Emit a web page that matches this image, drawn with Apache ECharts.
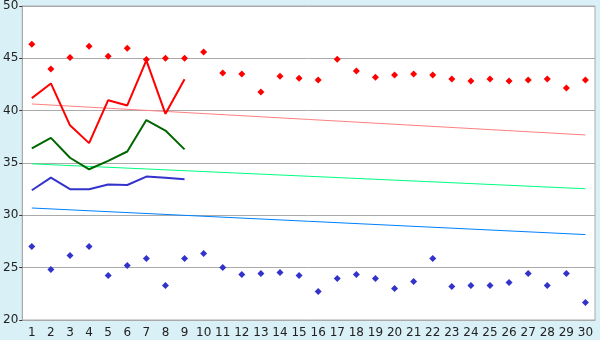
<!DOCTYPE html>
<html><head><meta charset="utf-8">
<script src="https://cdn.jsdelivr.net/npm/echarts@6/dist/echarts.min.js"></script>
<style>html,body{margin:0;padding:0;background:#d9f0f7;}#c{width:600px;height:340px;}</style>
</head><body><div id="c"></div>
<script>
var categories = ['1','2','3','4','5','6','7','8','9','10','11','12','13','14','15','16','17','18','19','20','21','22','23','24','25','26','27','28','29','30'];
var redLine = [41.2, 42.6, 38.6, 36.9, 41.0, 40.5, 44.8, 39.7, 43.0];
var greenLine = [36.4, 37.4, 35.5, 34.4, 35.2, 36.1, 39.1, 38.1, 36.3];
var blueLine = [32.4, 33.6, 32.5, 32.5, 32.95, 32.9, 33.7, 33.6, 33.45];
var redPoints = [46.35, 43.97, 45.08, 46.16, 45.2, 45.97, 44.9, 45.0, 45.0, 45.6, 43.6, 43.5, 41.78, 43.3, 43.1, 42.92, 44.92, 43.78, 43.2, 43.4, 43.5, 43.4, 43.02, 42.83, 43.02, 42.83, 42.92, 43.02, 42.16, 42.92];
var bluePoints = [27.02, 24.83, 26.16, 27.02, 24.26, 25.21, 25.87, 23.3, 25.87, 26.35, 25.02, 24.35, 24.45, 24.54, 24.26, 22.73, 23.97, 24.35, 23.97, 23.02, 23.69, 25.87, 23.21, 23.3, 23.3, 23.59, 24.45, 23.3, 24.45, 21.68];
var trendRed = [40.64, 37.68];
var trendGreen = [34.92, 32.54];
var trendBlue = [30.7, 28.16];

function ends(pair) {
  var arr = categories.map(function(){ return null; });
  arr[0] = pair[0];
  arr[arr.length - 1] = pair[1];
  return arr;
}
function lineS(data, color, width, z) {
  return {type:'line', data:data, symbol:'none', connectNulls:true, z:z||2,
    lineStyle:{color:color, width:width}, itemStyle:{color:color}, animation:false, silent:true};
}
function pts(data, color) {
  return {type:'line', data:data, symbol:'diamond', symbolSize:7, z:5,
    lineStyle:{width:0, opacity:0}, itemStyle:{color:color}, animation:false, silent:true};
}
var chart = echarts.init(document.getElementById('c'));
chart.setOption({
  backgroundColor:'#d9f0f7',
  grid:{left:20, right:5, top:5, bottom:20, show:true, backgroundColor:'#ffffff', borderColor:'#aaaaaa', borderWidth:1},
  xAxis:{type:'category', data:categories, boundaryGap:true,
    axisLine:{lineStyle:{color:'#aaaaaa'}},
    axisTick:{alignWithLabel:true, length:5, lineStyle:{color:'#333333'}},
    axisLabel:{color:'#222222', fontFamily:'DejaVu Sans', fontSize:12, margin:7, interval:0},
    splitLine:{show:false}},
  yAxis:{type:'value', min:20, max:50, interval:5,
    axisLine:{show:true, lineStyle:{color:'#aaaaaa'}},
    axisTick:{show:true, length:3, lineStyle:{color:'#333333'}},
    axisLabel:{color:'#222222', fontFamily:'DejaVu Sans', fontSize:12, margin:4},
    splitLine:{lineStyle:{color:'#aaaaaa'}}},
  series:[
    lineS(ends(trendRed), '#ff8080', 1),
    lineS(ends(trendGreen), '#00ff80', 1),
    lineS(ends(trendBlue), '#0080ff', 1),
    lineS(redLine, '#ff0000', 2, 3),
    lineS(greenLine, '#006600', 2, 3),
    lineS(blueLine, '#3333cc', 2, 3),
    pts(redPoints, '#ff0000'),
    pts(bluePoints, '#3333cc')
  ]
});
</script></body></html>
